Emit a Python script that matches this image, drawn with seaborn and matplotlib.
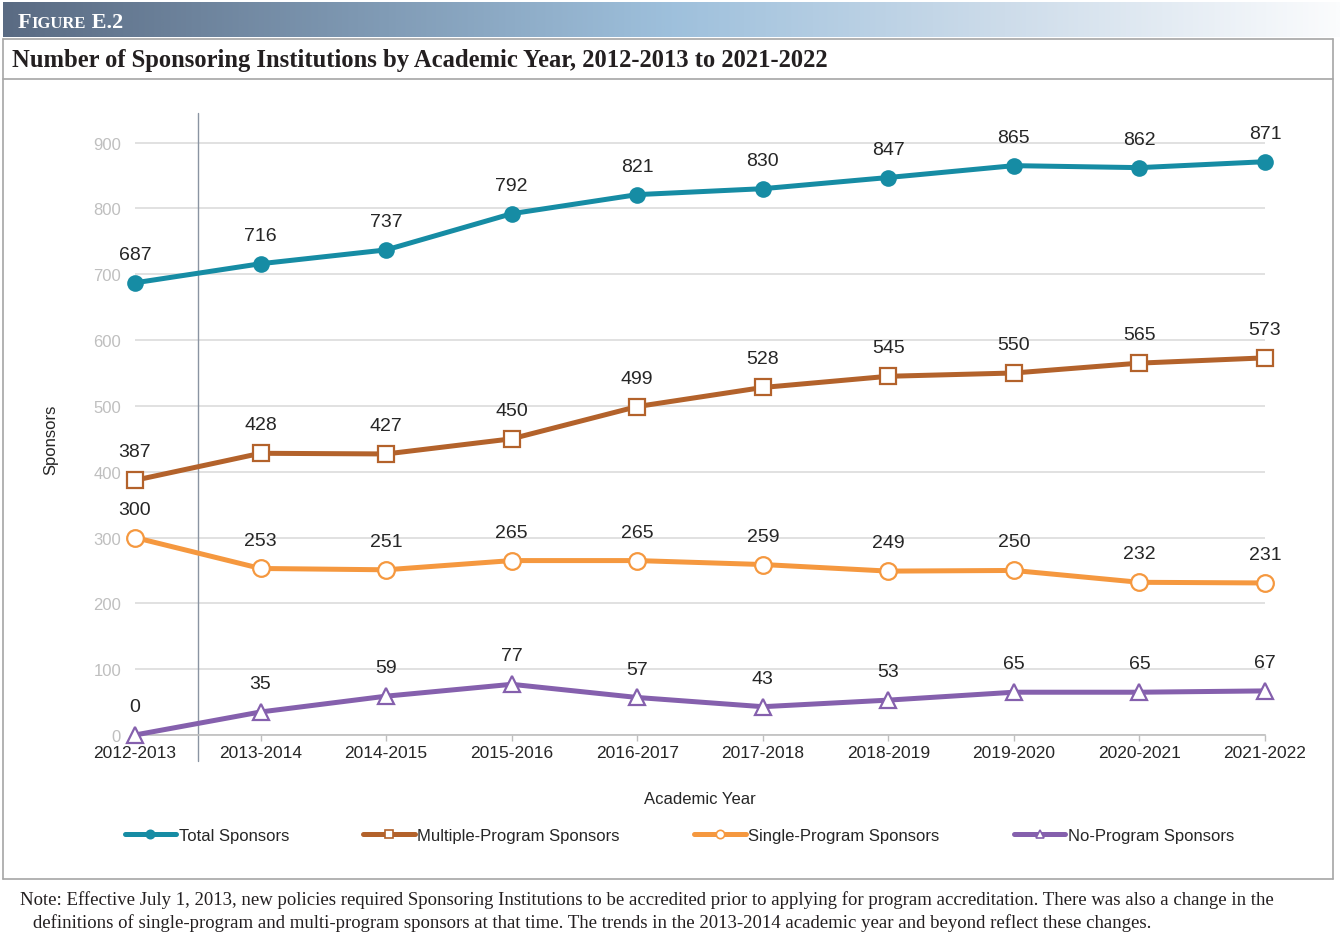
import numpy as np
import pandas as pd
import matplotlib
matplotlib.use("Agg")
import matplotlib.pyplot as plt
import seaborn as sns
from matplotlib.lines import Line2D
from matplotlib.colors import LinearSegmentedColormap

# ---------------- data ----------------
years = ["2012-2013", "2013-2014", "2014-2015", "2015-2016", "2016-2017",
         "2017-2018", "2018-2019", "2019-2020", "2020-2021", "2021-2022"]
total = [687, 716, 737, 792, 821, 830, 847, 865, 862, 871]
multiple = [387, 428, 427, 450, 499, 528, 545, 550, 565, 573]
single = [300, 253, 251, 265, 265, 259, 249, 250, 232, 231]
no_program = [0, 35, 59, 77, 57, 43, 53, 65, 65, 67]
series_names = ["Total Sponsors", "Multiple-Program Sponsors",
                "Single-Program Sponsors", "No-Program Sponsors"]
y_ticks = [0, 100, 200, 300, 400, 500, 600, 700, 800, 900]

title = "Number of Sponsoring Institutions by Academic Year, 2012-2013 to 2021-2022"
note1 = ("Note: Effective July 1, 2013, new policies required Sponsoring Institutions to be accredited "
         "prior to applying for program accreditation. There was also a change in the")
note2 = ("definitions of single-program and multi-program sponsors at that time. The trends in the "
         "2013-2014 academic year and beyond reflect these changes.")

# ---------------- style ----------------
sns.set_theme(style="white")
plt.rcParams['font.family'] = ['Liberation Sans', 'DejaVu Sans']

colors = ["#168ca4", "#b3622b", "#f5983f", "#8560ad"]
markers = ["o", "s", "o", "^"]
msizes = [12, 11, 12, 12]
filled = [True, False, False, False]
all_vals = [total, multiple, single, no_program]

df = pd.DataFrame({
    "year": years * 4,
    "value": total + multiple + single + no_program,
    "series": sum([[n] * len(years) for n in series_names], []),
})

W, H = 1340, 937
fig = plt.figure(figsize=(W / 100, H / 100), dpi=100)

# header gradient band
gax = fig.add_axes([3 / W, 1 - 38 / H, 1 - 3 / W, 35 / H])
cmap = LinearSegmentedColormap.from_list(
    "hdr", [(0.0, "#5a6b83"), (0.5, "#9ec0dc"), (0.75, "#cddcea"), (1.0, "#fbfcfd")])
gax.imshow(np.linspace(0, 1, 512)[None, :], aspect="auto", cmap=cmap,
           extent=[0, 1, 0, 1])
gax.set_axis_off()

# header text: small caps "FIGURE E.2"
t1 = fig.text(18 / W, 1 - 28 / H, "F", fontsize=16, fontweight="bold",
              family="Liberation Serif", color="white", va="baseline")
t2 = fig.text(0, 0, "IGURE", fontsize=12, fontweight="bold",
              family="Liberation Serif", color="white", va="baseline")
t3 = fig.text(0, 0, " E.2", fontsize=16, fontweight="bold",
              family="Liberation Serif", color="white", va="baseline")
fig.canvas.draw()
r = fig.canvas.get_renderer()
bb1 = t1.get_window_extent(r)
t2.set_position(((bb1.x1) / W, 1 - 28 / H))
bb2 = t2.get_window_extent(r)
t3.set_position(((bb2.x1) / W, 1 - 28 / H))

# title
fig.text(12 / W, 1 - 60 / H, title, fontsize=17.7, fontweight="bold",
         family="Liberation Serif", color="#231f20", va="center", ha="left")

# frame lines
lc = "#a6a6a6"
for y in (40, 80, 880):
    fig.add_artist(Line2D([3 / W, 1333 / W], [1 - y / H, 1 - y / H],
                          transform=fig.transFigure, color=lc, lw=1.2))
fig.add_artist(Line2D([3 / W, 3 / W], [1 - 40 / H, 1 - 880 / H],
                      transform=fig.transFigure, color=lc, lw=1.2))
fig.add_artist(Line2D([1333 / W, 1333 / W], [1 - 40 / H, 1 - 880 / H],
                      transform=fig.transFigure, color=lc, lw=1.2))

# note
fig.text(20 / W, 1 - 900 / H, note1, fontsize=13.5, family="Liberation Serif",
         color="#231f20", va="center", ha="left")
fig.text(33 / W, 1 - 923 / H, note2, fontsize=13.5, family="Liberation Serif",
         color="#231f20", va="center", ha="left")

# ---------------- main axes ----------------
ax = fig.add_axes([135 / W, 1 - 736 / H, 1130 / W, 622 / H])

for name, c, m, ms, f in zip(series_names, colors, markers, msizes, filled):
    sub = df[df["series"] == name]
    sns.lineplot(data=sub, x="year", y="value", ax=ax, color=c, lw=3.6,
                 marker=m, markersize=ms, markerfacecolor=c if f else "white",
                 markeredgecolor=c, markeredgewidth=1.6 if not f else 0,
                 clip_on=False, zorder=3, legend=False)

for vals in all_vals:
    for i, v in enumerate(vals):
        ax.annotate(str(v), (i, v), xytext=(0, 20.5), textcoords="offset points",
                    ha="center", va="center", fontsize=14, color="#262626")

ax.set_xlim(0, len(years) - 1)
ax.set_ylim(0, 945)
ax.set_yticks(y_ticks)
ax.set_xticks(range(len(years)))
ax.set_xticklabels(years)
ax.grid(axis="y", color="#dcdcdc", lw=1.2)
ax.grid(axis="x", visible=False)
for s in ("top", "right", "left"):
    ax.spines[s].set_visible(False)
ax.spines["bottom"].set_color("#bfbfbf")
ax.spines["bottom"].set_linewidth(1.2)
ax.tick_params(axis="y", length=0, pad=10, labelsize=12, labelcolor="#bfbfbf")
ax.tick_params(axis="x", bottom=True, length=4, width=1, color="#bfbfbf",
               pad=3, labelsize=12.5, labelcolor="#262626")

ax.axvline(0.5, ymin=-0.042, ymax=1.0, color="#8a94a2", lw=1, clip_on=False)

ax.set_xlabel("Academic Year", fontsize=12, color="#262626")
ax.set_ylabel("Sponsors", fontsize=12, color="#262626")
ax.xaxis.set_label_coords(0.5, -0.09)
ax.yaxis.set_label_coords(-0.068, 0.476)

handles = [Line2D([], [], color=c, lw=3.6, marker=m, markersize=6,
                  markerfacecolor=c if f else "white", markeredgecolor=c,
                  markeredgewidth=1.2)
           for c, m, f in zip(colors, markers, filled)]
fig.legend(handles, series_names, loc="center", bbox_to_anchor=(0.507, 1 - 836 / H),
           ncol=4, frameon=False, fontsize=12, handlelength=3.1, handletextpad=0.15,
           columnspacing=4.45, labelcolor="#262626")

fig.savefig("out.png", dpi=100)
